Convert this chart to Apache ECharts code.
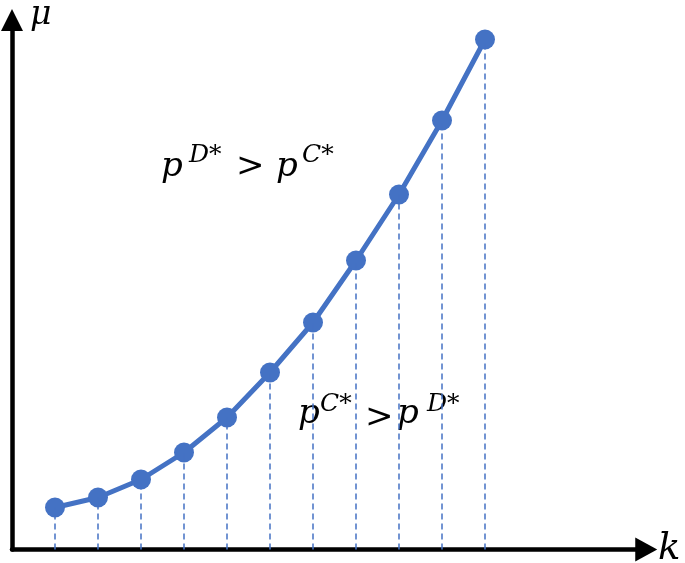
<!DOCTYPE html>
<html>
<head>
<meta charset="utf-8">
<script src="https://cdn.jsdelivr.net/npm/echarts@6/dist/echarts.min.js"></script>
<style>html,body{margin:0;padding:0;background:#fff}#c{width:685px;height:563px}</style>
</head>
<body>
<div id="c"></div>
<script>
var kValues = [1, 2, 3, 4, 5, 6, 7, 8, 9, 10, 11];
var muValues = [42, 52, 70, 97, 132, 177, 227, 289, 355, 429, 510];
var axisNames = ['k', 'μ'];

var blue = '#4472C4';
var lineData = kValues.map(function (k, i) { return [k, muValues[i]]; });
var dropLines = kValues.map(function (k, i) { return [{ coord: [k, 0] }, { coord: [k, muValues[i]] }]; });

var mathFont = '"DejaVu Serif", "Liberation Serif", serif';
function t(text, x, y, size, italic) {
  return { type: 'text', x: x, y: y, silent: true, style: {
    text: text, fontFamily: mathFont, fontSize: size, fontStyle: italic ? 'italic' : 'normal',
    fill: '#000', verticalAlign: 'middle', align: 'left' } };
}

var chart = echarts.init(document.getElementById('c'));
chart.setOption({
  animation: false,
  grid: { left: 12, right: 38.75, top: 20, bottom: 13.5 },
  xAxis: {
    type: 'value', min: 0, max: 14.75,
    axisLine: { show: true, onZero: false, symbol: ['none', 'triangle'], symbolSize: [24, 22],
      lineStyle: { color: '#000', width: 4.5 } },
    axisTick: { show: false }, axisLabel: { show: false }, splitLine: { show: false }
  },
  yAxis: {
    type: 'value', min: 0, max: 529.5,
    axisLine: { show: true, onZero: false, symbol: ['none', 'triangle'], symbolSize: [22, 22],
      lineStyle: { color: '#000', width: 4.5 } },
    axisTick: { show: false }, axisLabel: { show: false }, splitLine: { show: false }
  },
  series: [{
    type: 'line',
    data: lineData,
    symbol: 'circle', symbolSize: 20,
    itemStyle: { color: blue },
    lineStyle: { color: blue, width: 5 },
    z: 3,
    markLine: {
      silent: true, symbol: ['none', 'none'], label: { show: false },
      lineStyle: { color: blue, width: 1.5, type: [6, 4] },
      emphasis: { disabled: true },
      data: dropLines
    }
  }],
  graphic: [
    t(axisNames[1], 30, 15, 33, true),
    t(axisNames[0], 658, 549, 37, true),
    t('p', 161, 167, 34, true), t('D*', 189, 155, 25, true), t('>', 236, 167.5, 34, false),
    t('p', 276, 167, 34, true), t('C*', 302, 155, 25, true),
    t('p', 298, 414.5, 34, true), t('C*', 320, 404, 25, true), t('>', 365, 418, 34, false),
    t('p', 397, 414.5, 34, true), t('D*', 427, 404, 25, true)
  ]
});
</script>
</body>
</html>
